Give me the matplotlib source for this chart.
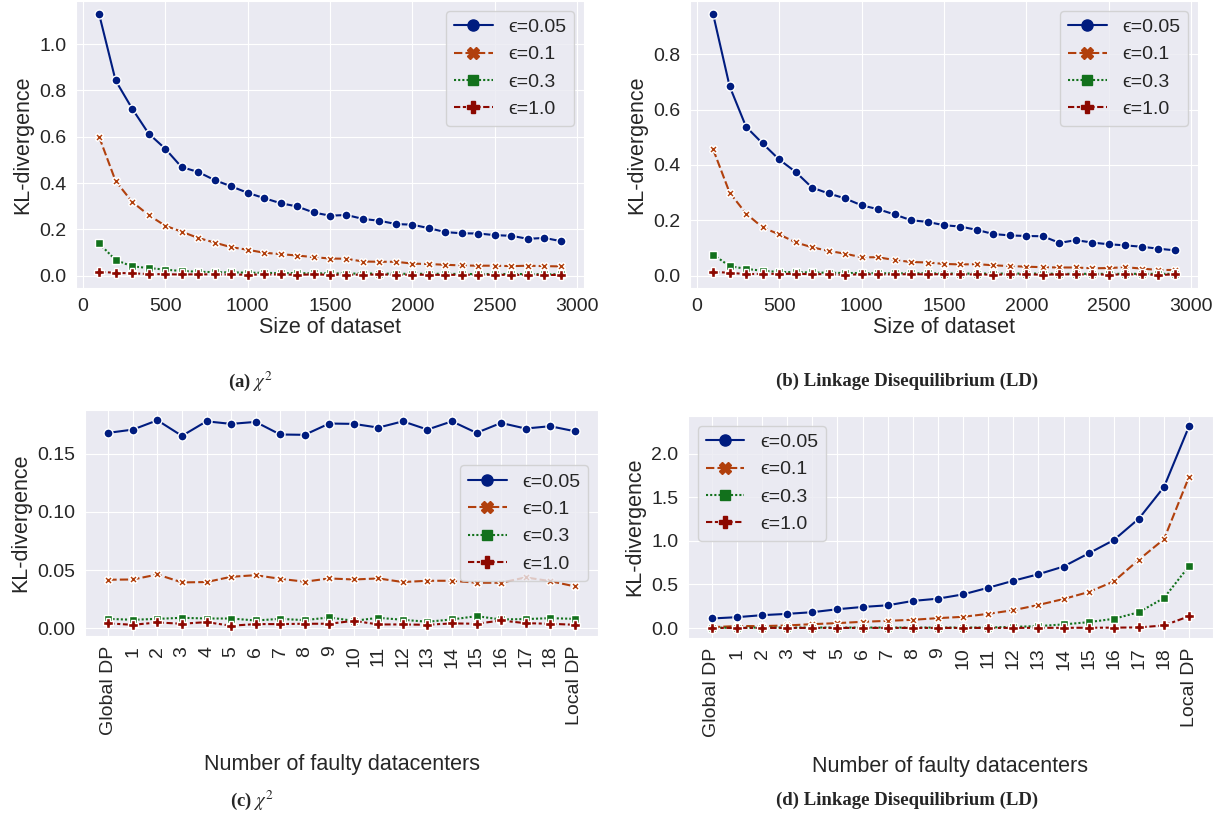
import numpy as np
import matplotlib
matplotlib.use("Agg")
import matplotlib.pyplot as plt
import seaborn as sns

# Data
sizes = list(range(100, 3000, 100))
eps_labels = ["ϵ=0.05", "ϵ=0.1", "ϵ=0.3", "ϵ=1.0"]

chi_size_005 = [1.13, 0.843, 0.722, 0.614, 0.549, 0.469, 0.448, 0.413, 0.386, 0.358,
                0.335, 0.313, 0.299, 0.273, 0.259, 0.262, 0.245, 0.237, 0.223, 0.220,
                0.205, 0.188, 0.183, 0.182, 0.175, 0.172, 0.159, 0.163, 0.149]
chi_size_01 = [0.600, 0.409, 0.319, 0.262, 0.216, 0.190, 0.163, 0.143, 0.123, 0.112,
               0.099, 0.093, 0.087, 0.080, 0.074, 0.073, 0.061, 0.060, 0.060, 0.052,
               0.050, 0.047, 0.044, 0.043, 0.043, 0.041, 0.043, 0.041, 0.040]
chi_size_03 = [0.139, 0.068, 0.040, 0.033, 0.026, 0.020, 0.017, 0.015, 0.014, 0.013,
               0.012, 0.011, 0.011, 0.010, 0.010, 0.009, 0.009, 0.009, 0.008, 0.008,
               0.008, 0.008, 0.007, 0.007, 0.007, 0.007, 0.007, 0.006, 0.006]
chi_size_10 = [0.017, 0.012, 0.010, 0.007, 0.006, 0.005, 0.006, 0.005, 0.005, 0.004,
               0.005, 0.005, 0.004, 0.005, 0.004, 0.004, 0.004, 0.005, 0.004, 0.004,
               0.004, 0.003, 0.004, 0.004, 0.004, 0.003, 0.004, 0.003, 0.003]

ld_size_005 = [0.946, 0.685, 0.538, 0.478, 0.420, 0.375, 0.318, 0.297, 0.279, 0.254,
               0.240, 0.221, 0.200, 0.194, 0.182, 0.177, 0.165, 0.150, 0.145, 0.143,
               0.142, 0.118, 0.128, 0.119, 0.113, 0.109, 0.104, 0.097, 0.091]
ld_size_01 = [0.457, 0.300, 0.224, 0.174, 0.149, 0.120, 0.102, 0.089, 0.079, 0.066,
              0.066, 0.056, 0.049, 0.047, 0.042, 0.040, 0.041, 0.037, 0.034, 0.032,
              0.030, 0.029, 0.029, 0.026, 0.027, 0.030, 0.025, 0.020, 0.020]
ld_size_03 = [0.076, 0.034, 0.024, 0.017, 0.013, 0.012, 0.011, 0.010, 0.009, 0.009,
              0.008, 0.008, 0.008, 0.008, 0.007, 0.007, 0.007, 0.007, 0.007, 0.007,
              0.007, 0.006, 0.006, 0.006, 0.006, 0.006, 0.006, 0.006, 0.006]
ld_size_10 = [0.013, 0.010, 0.005, 0.006, 0.006, 0.006, 0.005, 0.005, 0.002, 0.005,
              0.004, 0.004, 0.005, 0.004, 0.005, 0.004, 0.004, 0.003, 0.004, 0.004,
              0.003, 0.004, 0.004, 0.004, 0.003, 0.004, 0.004, 0.002, 0.004]

faulty_labels = ["Global DP"] + [str(i) for i in range(1, 19)] + ["Local DP"]

chi_faulty_005 = [0.1679, 0.1707, 0.1787, 0.1653, 0.1778, 0.1756, 0.1773, 0.1665, 0.1662, 0.1759,
                  0.1756, 0.1724, 0.1778, 0.1707, 0.1778, 0.1679, 0.1764, 0.1716, 0.1736, 0.1693]
chi_faulty_01 = [0.0418, 0.0420, 0.0463, 0.0395, 0.0398, 0.0443, 0.0457, 0.0426, 0.0401, 0.0429,
                 0.0420, 0.0429, 0.0398, 0.0409, 0.0409, 0.0392, 0.0392, 0.0438, 0.0406, 0.0361]
chi_faulty_03 = [0.0082, 0.0074, 0.0082, 0.0091, 0.0085, 0.0085, 0.0068, 0.0082, 0.0071, 0.0094,
                 0.0065, 0.0091, 0.0074, 0.0057, 0.0077, 0.0105, 0.0077, 0.0080, 0.0088, 0.0082]
chi_faulty_10 = [0.0043, 0.0031, 0.0051, 0.0040, 0.0054, 0.0023, 0.0037, 0.0037, 0.0040, 0.0040,
                 0.0065, 0.0034, 0.0034, 0.0031, 0.0043, 0.0040, 0.0068, 0.0045, 0.0040, 0.0031]

ld_faulty_005 = [0.110, 0.125, 0.148, 0.163, 0.182, 0.216, 0.242, 0.261, 0.311, 0.337,
                 0.386, 0.462, 0.542, 0.617, 0.705, 0.856, 1.008, 1.254, 1.617, 2.314]
ld_faulty_01 = [0.011, 0.023, 0.023, 0.030, 0.045, 0.057, 0.072, 0.083, 0.095, 0.114,
                0.129, 0.163, 0.205, 0.265, 0.333, 0.413, 0.534, 0.784, 1.019, 1.735]
ld_faulty_03 = [0.004, 0.004, 0.006, 0.006, 0.006, 0.006, 0.006, 0.006, 0.006, 0.006,
                0.006, 0.006, 0.014, 0.023, 0.042, 0.068, 0.106, 0.182, 0.345, 0.712]
ld_faulty_10 = [0.002, 0.002, 0.002, 0.002, 0.002, 0.002, 0.002, 0.002, 0.002, 0.002,
                0.002, 0.002, 0.002, 0.003, 0.003, 0.004, 0.005, 0.008, 0.030, 0.136]

#Style
sns.set_style("darkgrid")
plt.rcParams['font.family'] = ['Liberation Sans', 'DejaVu Sans']
plt.rcParams['mathtext.fontset'] = 'stix'

colors = ["#001c7f", "#b1400d", "#12711c", "#8c0800"]
markers = ["o", "X", "s", "P"]
msizes = [6.5, 6.0, 5.5, 6.5]
leg_msizes = [8, 8, 6.5, 8]
dashes = [(None, None), (0, (4, 1.5)), (0, (1, 1)), (0, (3, 1.25, 1.5, 1.25))]

W, H = 1226, 817
fig = plt.figure(figsize=(W / 100, H / 100), dpi=100)


def add_ax(left, top, right, bottom):
    return fig.add_axes([left / W, 1 - bottom / H, (right - left) / W, (bottom - top) / H])


def draw(ax, x, series, loc):
    for i, y in enumerate(series):
        ls = "-" if i == 0 else dashes[i]
        ax.plot(x, y, color=colors[i], linestyle=ls, linewidth=1.5,
                marker=markers[i], markersize=msizes[i], markeredgecolor="white",
                markeredgewidth=1.0, label=eps_labels[i])
    leg = ax.legend(loc=loc, fontsize=14)
    # legend markers are solid, without the white rim
    for i, h in enumerate(leg.legend_handles):
        h.set_markeredgecolor(colors[i])
        h.set_markersize(leg_msizes[i])
    ax.tick_params(labelsize=14, colors="#262626")
    ax.set_ylabel("KL-divergence", fontsize=15.5, color="#262626")


ax_a = add_ax(76, 1, 584, 288)
draw(ax_a, sizes, [chi_size_005, chi_size_01, chi_size_03, chi_size_10], "upper right")
ax_a.set_xlabel("Size of dataset", fontsize=15.5, color="#262626", labelpad=2)
ax_a.set_xticks([0, 500, 1000, 1500, 2000, 2500, 3000])

ax_b = add_ax(690, 1, 1198, 288)
draw(ax_b, sizes, [ld_size_005, ld_size_01, ld_size_03, ld_size_10], "upper right")
ax_b.set_xlabel("Size of dataset", fontsize=15.5, color="#262626", labelpad=2)
ax_b.set_xticks([0, 500, 1000, 1500, 2000, 2500, 3000])

pos = np.arange(len(faulty_labels))

ax_c = add_ax(85, 410, 598, 636)
draw(ax_c, pos, [chi_faulty_005, chi_faulty_01, chi_faulty_03, chi_faulty_10], "center right")
ax_c.set_xticks(pos)
ax_c.set_xticklabels(faulty_labels, rotation=90)
ax_c.set_xlabel("Number of faulty datacenters", fontsize=15.5, color="#262626", labelpad=14)
ax_c.set_yticks([0.0, 0.05, 0.10, 0.15])

ax_d = add_ax(688, 416, 1213, 638)
draw(ax_d, pos, [ld_faulty_005, ld_faulty_01, ld_faulty_03, ld_faulty_10], "upper left")
ax_d.set_xticks(pos)
ax_d.set_xticklabels(faulty_labels, rotation=90)
ax_d.set_xlabel("Number of faulty datacenters", fontsize=15.5, color="#262626", labelpad=14)
ax_d.set_yticks([0.0, 0.5, 1.0, 1.5, 2.0])

#Captions
cap = dict(fontsize=13.5, fontweight="bold", family="Liberation Serif", ha="center", va="center")
fig.text(250 / W, 1 - 381 / H, r"(a) $\chi^2$", **cap)
fig.text(907 / W, 1 - 381 / H, "(b) Linkage Disequilibrium (LD)", **cap)
fig.text(252 / W, 1 - 800 / H, r"(c) $\chi^2$", **cap)
fig.text(907 / W, 1 - 800 / H, "(d) Linkage Disequilibrium (LD)", **cap)

fig.savefig("out.png", dpi=100)
